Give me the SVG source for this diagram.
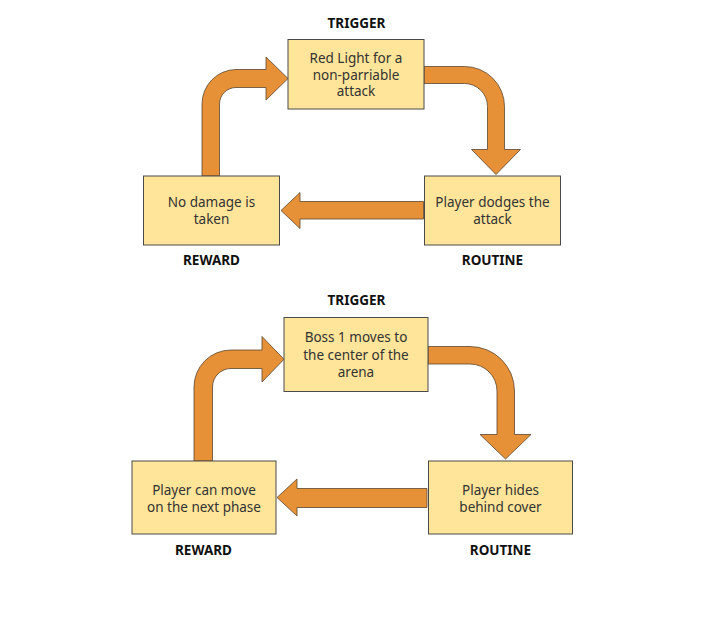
<svg xmlns="http://www.w3.org/2000/svg" width="706" height="632" viewBox="0 0 706 632">
<style>
.box{fill:#FFE599;stroke:#4a4a4a;stroke-width:1}
.arrow{fill:#E69138;stroke:#5a4630;stroke-width:0.8;stroke-linejoin:miter}
.t{font-family:"Noto Sans","Open Sans",sans-serif;font-size:13.5px;fill:#333333;text-anchor:middle}
.lab{font-family:"Noto Sans","Open Sans",sans-serif;font-size:13.5px;font-weight:bold;fill:#111111;text-anchor:middle}
</style>
<rect width="706" height="632" fill="#ffffff"/>
<g id="connectors">
<path class="arrow" d="M202,176 V104 A34.5 34.5 0 0 1 236,69.5 H266 V57 L288,78.5 L266,100 V87.5 H236 A16.5 16.5 0 0 0 219.5,104 V176 Z"/>
<path class="arrow" d="M424,66.5 H464.5 A40 40 0 0 1 504.5,106.5 V149.5 H520.5 L496,174.5 L471.5,149.5 H487.5 V106.5 A23 23 0 0 0 464.5,83.5 H424 Z"/>
<path class="arrow" d="M423.5,201.5 H300 V192.5 L281,210.5 L300,228.5 V219 H423.5 Z"/>
<path class="arrow" d="M194,461 V387 A37 37 0 0 1 231,350 H262 V336.5 L284,359.25 L262,382 V368.5 H231 A18.5 18.5 0 0 0 212.5,387 V461 Z"/>
<path class="arrow" d="M428,346.5 H470 A44.5 44.5 0 0 1 514.5,391 V434.5 H531 L505.5,459 L480,434.5 H497 V391 A27 27 0 0 0 470,364 H428 Z"/>
<path class="arrow" d="M427,488.5 H297 V479 L277,497.5 L297,516 V507.5 H427 Z"/>
</g>
<g id="trigger1">
<rect class="box" x="288" y="39.5" width="136" height="69.5"/>
<text class="t" x="356" y="63">Red Light for a</text>
<text class="t" x="356" y="79.5">non-parriable</text>
<text class="t" x="356" y="96">attack</text>
<text class="lab" x="356.5" y="28">TRIGGER</text>
</g>
<g id="reward1">
<rect class="box" x="143.5" y="176" width="136" height="69"/>
<text class="t" x="211.5" y="207">No damage is</text>
<text class="t" x="211.5" y="223.5">taken</text>
<text class="lab" x="211.5" y="265">REWARD</text>
</g>
<g id="routine1">
<rect class="box" x="424.5" y="176" width="136" height="69"/>
<text class="t" x="492.5" y="207">Player dodges the</text>
<text class="t" x="492.5" y="223.5">attack</text>
<text class="lab" x="492.5" y="265">ROUTINE</text>
</g>
<g id="trigger2">
<rect class="box" x="284" y="317.5" width="144" height="74"/>
<text class="t" x="356" y="342">Boss 1 moves to</text>
<text class="t" x="356" y="359.5">the center of the</text>
<text class="t" x="356" y="377">arena</text>
<text class="lab" x="356.5" y="305">TRIGGER</text>
</g>
<g id="reward2">
<rect class="box" x="132" y="461" width="144" height="73"/>
<text class="t" x="204" y="494.5">Player can move</text>
<text class="t" x="204" y="511.5">on the next phase</text>
<text class="lab" x="203.5" y="555">REWARD</text>
</g>
<g id="routine2">
<rect class="box" x="428.5" y="461" width="144" height="73"/>
<text class="t" x="500.5" y="494.5">Player hides</text>
<text class="t" x="500.5" y="511.5">behind cover</text>
<text class="lab" x="500.5" y="555">ROUTINE</text>
</g>
</svg>
